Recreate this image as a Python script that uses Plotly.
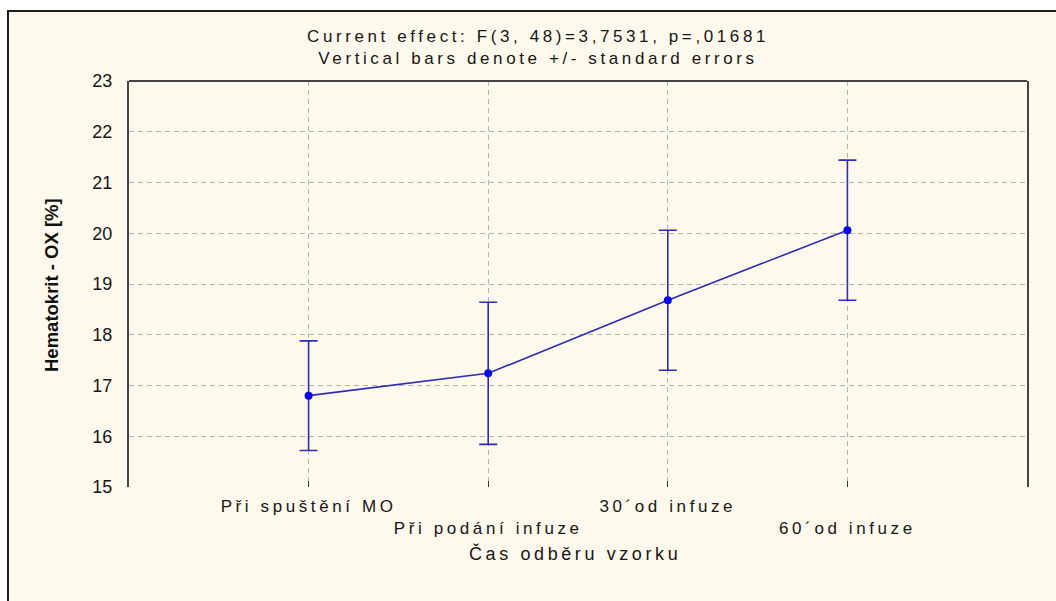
import plotly.graph_objects as go

# Hematocrit (OX) by sampling time: means with +/- standard errors
categories = ["Při spuštění MO", "Při podání infuze", "30´od infuze", "60´od infuze"]
means = [16.80, 17.24, 18.68, 20.06]
std_errors = [1.08, 1.40, 1.38, 1.38]
y_ticks = [15, 16, 17, 18, 19, 20, 21, 22, 23]

title_lines = ["Current effect: F(3, 48)=3,7531, p=,01681",
               "Vertical bars denote +/- standard errors"]
x_title = "Čas odběru vzorku"
y_title = "Hematokrit - OX [%]"

FONT = "Liberation Sans, Arial, sans-serif"
SPACED = '<span style="letter-spacing:3.6px">{}</span>'
LINE_BLUE = "#2C2CB4"
MARK_BLUE = "#0A0AE6"
CREAM = "#FFF9ED"
GRID = "#B4B4B4"
TEXT = "#161616"

# staggered category labels: every second label drops to a second row
tick_text = [("<br>" if i % 2 else "") + SPACED.format(c) for i, c in enumerate(categories)]

fig = go.Figure()
fig.add_trace(go.Scatter(
    x=categories, y=means,
    mode="lines+markers",
    line=dict(color=LINE_BLUE, width=1.6),
    marker=dict(color=MARK_BLUE, size=8, symbol="circle"),
    error_y=dict(type="data", array=std_errors, visible=True,
                 color=LINE_BLUE, thickness=1.6, width=9),
    showlegend=False,
))

W, H = 1056, 601
L, R, T, B = 129, 29, 81, 114
pw, ph = W - L - R, H - T - B


def px_x(x):
    return (x - L) / pw


def px_y(y):
    return (H - B - y) / ph


shapes = [
    # cream panel behind the plot, dark rule on its top and left edges
    dict(type="rect", xref="paper", yref="paper", layer="below",
         x0=px_x(8), x1=px_x(W + 20), y0=px_y(H + 20), y1=px_y(11),
         fillcolor=CREAM, line=dict(color="#1E1E1E", width=2)),
    # top border of the plotting area
    dict(type="line", xref="paper", yref="paper",
         x0=0, x1=1, y0=1, y1=1, line=dict(color="#454545", width=2)),
]

annotations = [
    dict(text=SPACED.format(x_title), xref="paper", yref="paper",
         x=px_x(575), y=px_y(553), xanchor="center", yanchor="middle",
         showarrow=False, font=dict(family=FONT, size=18, color=TEXT)),
    dict(text="<b>" + y_title + "</b>", xref="paper", yref="paper",
         x=px_x(51), y=px_y(285), xanchor="center", yanchor="middle",
         textangle=-90, showarrow=False,
         font=dict(family="Liberation Sans Narrow, Arial Narrow, Liberation Sans, sans-serif",
                   size=18.5, color="#111111")),
]

fig.update_layout(
    width=W, height=H,
    margin=dict(l=L, r=R, t=T, b=B, pad=0, autoexpand=False),
    paper_bgcolor="white",
    plot_bgcolor="white",
    font=dict(family=FONT, size=18, color=TEXT),
    title=dict(text="<br>".join(SPACED.format(t) for t in title_lines),
               xref="container", yref="container",
               x=538 / W, y=1 - 42 / H, xanchor="center", yanchor="middle",
               font=dict(family=FONT, size=17, color=TEXT)),
    xaxis=dict(type="category", range=[-1, 4],
               tickvals=categories, ticktext=tick_text, tickangle=0,
               automargin=False,
               showgrid=True, gridcolor=GRID, griddash="5px,4px", gridwidth=1,
               ticks="inside", ticklen=6, tickcolor="#333333", tickwidth=1,
               showline=False, zeroline=False, ticklabelstandoff=7,
               tickfont=dict(family=FONT, size=17, color=TEXT)),
    yaxis=dict(range=[15, 23], tickvals=y_ticks, automargin=False,
               showgrid=True, gridcolor=GRID, griddash="5px,4px", gridwidth=1,
               showline=True, mirror=True, linecolor="#454545", linewidth=2,
               ticks="", zeroline=False, ticklabelstandoff=11,
               tickfont=dict(family=FONT, size=18, color=TEXT)),
    shapes=shapes,
    annotations=annotations,
)

fig.write_html("out.html")
